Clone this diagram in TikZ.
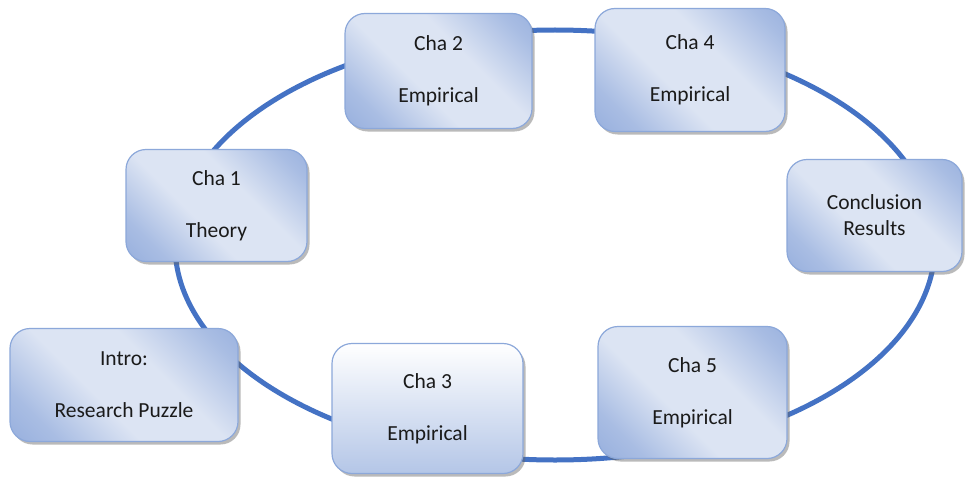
\documentclass[tikz,border=0pt]{standalone}
\usepackage{fontspec}
\setmainfont{Carlito}
\usetikzlibrary{shadows,shapes.geometric}
\definecolor{ringblue}{HTML}{4472C4}
\definecolor{boxdk}{HTML}{7F9DD6}
\definecolor{boxlt}{HTML}{DCE4F3}
\definecolor{boxedge}{HTML}{8CA8DA}
\definecolor{txt}{HTML}{1A1A1A}
\definecolor{cthree}{HTML}{B4C6E7}
\pgfdeclarehorizontalshading{diagshade}{100bp}{color(0bp)=(boxdk); color(25bp)=(boxdk!55!boxlt); color(42bp)=(boxlt); color(60bp)=(boxlt); color(78bp)=(boxdk!55!boxlt); color(100bp)=(boxdk)}
\tikzset{
  chapbox/.style={draw=boxedge, line width=1.2pt, rounded corners=20pt,
    shading=diagshade, shading angle=45,
    drop shadow={shadow xshift=2.5pt, shadow yshift=-3pt, opacity=0.45, fill=black!60},
    text=txt, align=center, inner sep=0pt,
    font=\fontsize{21.5}{26}\selectfont},
  vertbox/.style={chapbox, top color=white, bottom color=cthree, shading angle=0},
}
\newcommand{\boxat}[6]{%
  % name, x1, y1, x2, y2, text
  \node[chapbox, minimum width={(#4-#2)*1pt}, minimum height={(#5-#3)*1pt}] (#1) at ({(#2+#4)/2},{(#3+#5)/2+1.5}) {#6};}
\begin{document}
\begin{tikzpicture}[x=1pt,y=-1pt]
\useasboundingbox (0,0) rectangle (965,476);
\fill[white] (0,0) rectangle (965,476);
\node[draw=ringblue, line width=5pt, ellipse, minimum width=760pt, minimum height=430pt, inner sep=0pt] (ring) at (555,245) {};
\boxat{cha2}{345}{12}{532}{127}{Cha 2\\[26pt]Empirical}
\boxat{cha4}{595}{7}{785}{130}{Cha 4\\[26pt]Empirical}
\boxat{cha1}{126}{148}{307}{260}{Cha 1\\[26pt]Theory}
\boxat{concl}{787}{158}{962}{270}{Conclusion\\Results}
\boxat{intro}{10}{327}{238}{440}{Intro:\\[26pt]Research Puzzle}
\node[vertbox, minimum width=191pt, minimum height=130pt] (cha3) at (427.5,408.5) {Cha 3\\[26pt]Empirical};
\boxat{cha5}{598}{325}{787}{457}{Cha 5\\[26pt]Empirical}
\end{tikzpicture}
\end{document}
